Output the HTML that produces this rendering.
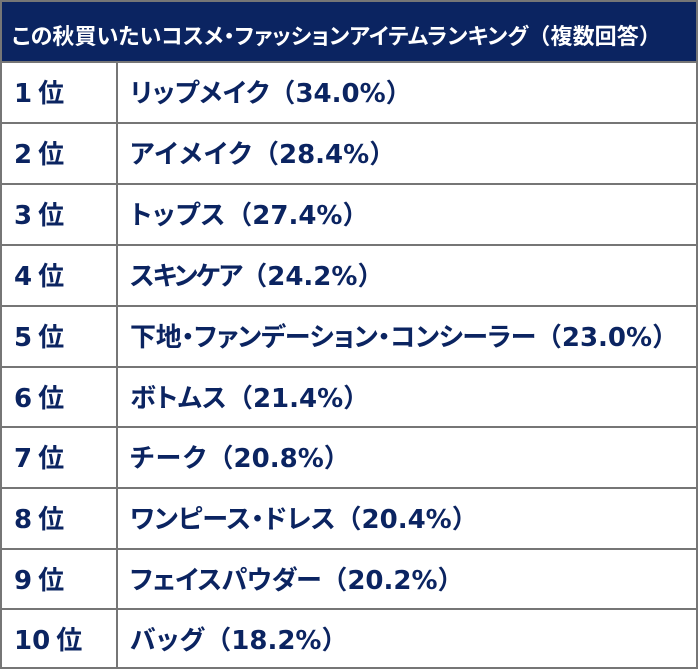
<!DOCTYPE html>
<html><head><meta charset="utf-8">
<style>
html,body{margin:0;padding:0;background:#fff;}
body{width:700px;height:670px;position:relative;overflow:hidden;font-family:"DejaVu Sans","Liberation Sans","Noto Sans CJK JP",sans-serif;}
.hb{position:absolute;left:0;top:0;width:698px;height:669px;box-sizing:border-box;border:2px solid #767676;}
.head{position:absolute;left:2px;top:2px;width:694px;height:60px;background:#0b2461;}
.htxt{position:absolute;left:12px;top:20px;color:#fff;font-weight:bold;font-size:22px;line-height:30px;white-space:nowrap;font-family:"Noto Sans CJK JP",sans-serif;letter-spacing:0.1px;}
.htxt .pp{font-feature-settings:"palt";}
.htxt .fp{font-feature-settings:normal;text-spacing-trim:space-all;}
.hl{position:absolute;left:0;width:698px;height:2px;background:#767676;}
.vl{position:absolute;left:116px;top:62px;width:2px;height:606px;background:#767676;}
.row{position:absolute;left:0;width:698px;height:60px;color:#0b2461;font-weight:bold;font-size:26px;white-space:nowrap;}
.rk{position:absolute;left:14px;top:13px;line-height:34px;}
.rk .n{font-family:"DejaVu Sans",sans-serif;}
.rk .k{font-family:"Noto Sans CJK JP",sans-serif;margin-left:6px;}
.it{position:absolute;left:130px;top:13px;line-height:34px;}
.jp{font-family:"Noto Sans CJK JP",sans-serif;font-feature-settings:"palt";letter-spacing:0.3px;}
.pa{font-family:"Noto Sans CJK JP",sans-serif;}
.nm{font-family:"DejaVu Sans",sans-serif;}
</style></head><body>
<div class="head"></div>
<div class="htxt"><span class="pp">この秋買いたいコスメ・ファッションアイテムランキング</span><span class="fp">（</span><span class="pp">複数回答</span><span class="fp">）</span></div>
<div class="hb"></div>
<div class="vl"></div>
<div class="hl" style="top:61px"></div>
<div class="hl" style="top:122px"></div>
<div class="hl" style="top:183px"></div>
<div class="hl" style="top:244px"></div>
<div class="hl" style="top:305px"></div>
<div class="hl" style="top:366px"></div>
<div class="hl" style="top:426px"></div>
<div class="hl" style="top:487px"></div>
<div class="hl" style="top:548px"></div>
<div class="hl" style="top:608px"></div>

<div class="row" style="top:62px"><div class="rk"><span class="n">1</span><span class="k">位</span></div><div class="it"><span class="jp">リップメイク</span><span class="pa">（</span><span class="nm">34.0%</span><span class="pa">）</span></div></div>
<div class="row" style="top:123px"><div class="rk"><span class="n">2</span><span class="k">位</span></div><div class="it"><span class="jp" style="letter-spacing:1.5px">アイメイク</span><span class="pa">（</span><span class="nm">28.4%</span><span class="pa">）</span></div></div>
<div class="row" style="top:184px"><div class="rk"><span class="n">3</span><span class="k">位</span></div><div class="it"><span class="jp" style="letter-spacing:1px">トップス</span><span class="pa">（</span><span class="nm">27.4%</span><span class="pa">）</span></div></div>
<div class="row" style="top:245px"><div class="rk"><span class="n">4</span><span class="k">位</span></div><div class="it"><span class="jp" style="letter-spacing:-1.8px">スキンケア</span><span class="pa">（</span><span class="nm">24.2%</span><span class="pa">）</span></div></div>
<div class="row" style="top:306px"><div class="rk"><span class="n">5</span><span class="k">位</span></div><div class="it"><span class="jp" style="letter-spacing:-0.3px">下地・ファンデーション・コンシーラー</span><span class="pa">（</span><span class="nm">23.0%</span><span class="pa">）</span></div></div>
<div class="row" style="top:367px"><div class="rk"><span class="n">6</span><span class="k">位</span></div><div class="it"><span class="jp">ボトムス</span><span class="pa">（</span><span class="nm">21.4%</span><span class="pa">）</span></div></div>
<div class="row" style="top:427px"><div class="rk"><span class="n">7</span><span class="k">位</span></div><div class="it"><span class="jp" style="letter-spacing:1.6px">チーク</span><span class="pa">（</span><span class="nm">20.8%</span><span class="pa">）</span></div></div>
<div class="row" style="top:488px"><div class="rk"><span class="n">8</span><span class="k">位</span></div><div class="it"><span class="jp" style="letter-spacing:0px">ワンピース・ドレス</span><span class="pa">（</span><span class="nm">20.4%</span><span class="pa">）</span></div></div>
<div class="row" style="top:549px"><div class="rk"><span class="n">9</span><span class="k">位</span></div><div class="it"><span class="jp" style="letter-spacing:-0.3px">フェイスパウダー</span><span class="pa">（</span><span class="nm">20.2%</span><span class="pa">）</span></div></div>
<div class="row" style="top:609px"><div class="rk"><span class="n">10</span><span class="k">位</span></div><div class="it"><span class="jp" style="letter-spacing:1px">バッグ</span><span class="pa">（</span><span class="nm">18.2%</span><span class="pa">）</span></div></div>
</body></html>
